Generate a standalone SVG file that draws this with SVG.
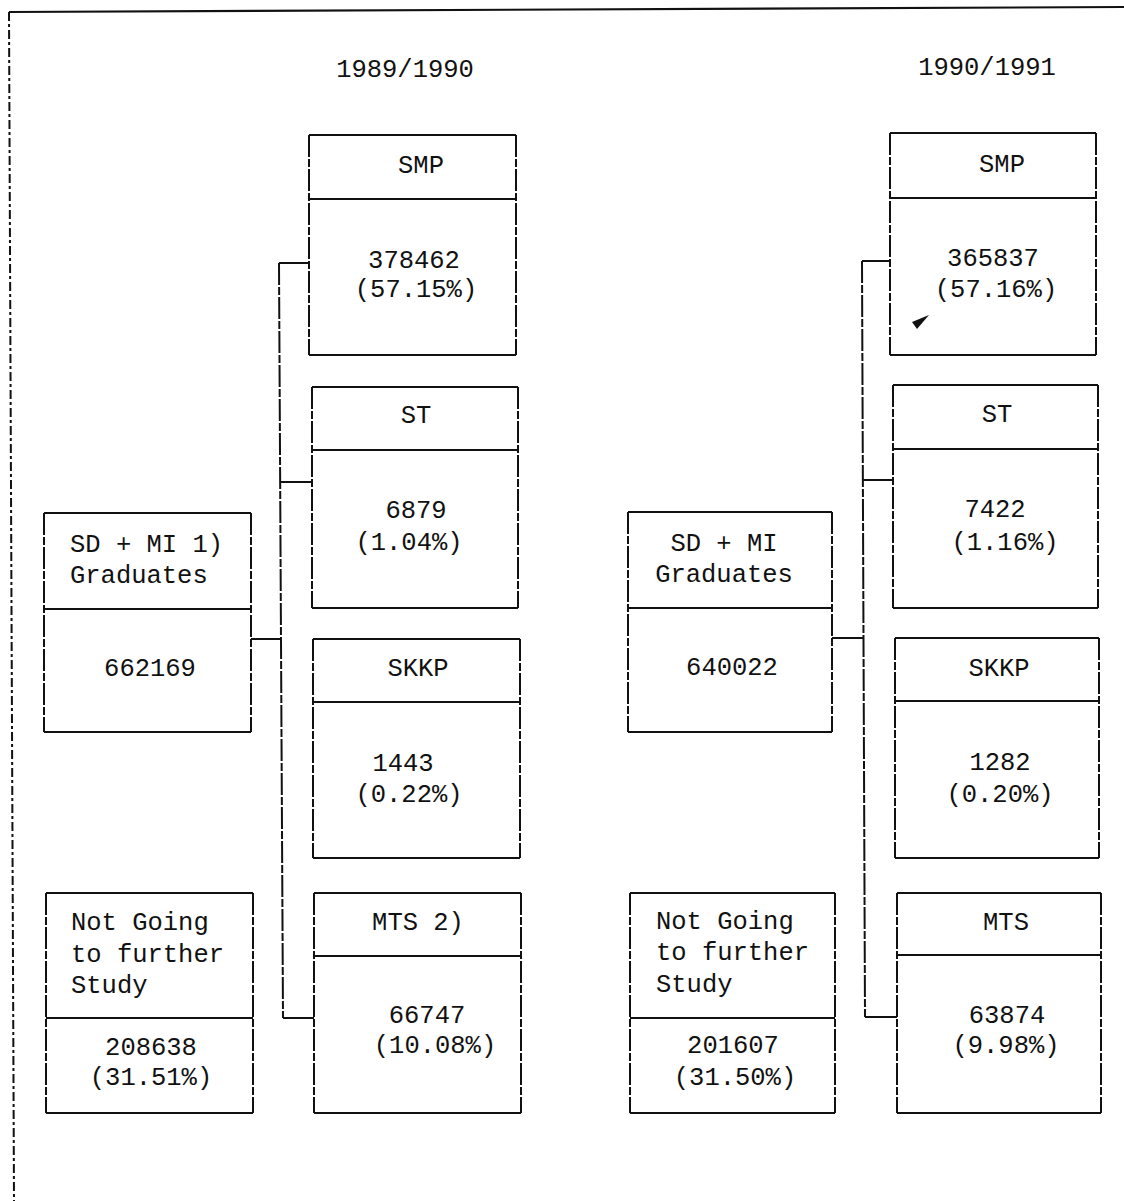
<svg xmlns="http://www.w3.org/2000/svg" width="1124" height="1201" viewBox="0 0 1124 1201">
<style>
text{font-family:"Liberation Mono","DejaVu Sans Mono",monospace;font-size:25.5px;fill:#111}
.c{text-anchor:middle}
.h{fill:none;stroke:#111;stroke-width:2.2}
.v{fill:none;stroke:#111;stroke-width:2;stroke-dasharray:22 2 8 2}
.ln{fill:none;stroke:#111;stroke-width:2}
</style>
<rect width="1124" height="1201" fill="#fff"/>
<g id="frame">
<path d="M9,12 L1124,7" class="h"/>
<path d="M9,12 L14,1201" fill="none" stroke="#111" stroke-width="2" stroke-dasharray="9 3 3 3"/>
</g>
<g id="titles">
<text x="405" y="77" class="c">1989/1990</text>
<text x="987" y="75" class="c">1990/1991</text>
</g>
<g id="connectors">
<path d="M279,263 L283,1018" class="v"/>
<path d="M279,263 H309 M281,482 H312 M283,1018 H314 M251,639 H281" class="ln"/>
<path d="M862,261 L865,1017" class="v"/>
<path d="M862,261 H890 M863,480 H893 M865,1017 H897 M832,638 H863" class="ln"/>
<polygon points="929,315 912,322 917,329" fill="#111"/>
</g>
<g id="l-smp">
<path d="M309,135 H516 M309,199 H516 M309,355 H516" class="h"/>
<path d="M309,135 V355 M516,135 V355" class="v"/>
<text x="421" y="173" class="c">SMP</text>
<text x="414" y="268" class="c">378462</text>
<text x="416" y="297" class="c">(57.15%)</text>
</g>
<g id="l-st">
<path d="M312,387 H518 M312,450 H518 M312,608 H518" class="h"/>
<path d="M312,387 V608 M518,387 V608" class="v"/>
<text x="416" y="423" class="c">ST</text>
<text x="416" y="518" class="c">6879</text>
<text x="409" y="550" class="c">(1.04%)</text>
</g>
<g id="l-skkp">
<path d="M313,639 H520 M313,702 H520 M313,858 H520" class="h"/>
<path d="M313,639 V858 M520,639 V858" class="v"/>
<text x="418" y="676" class="c">SKKP</text>
<text x="403" y="771" class="c">1443</text>
<text x="409" y="802" class="c">(0.22%)</text>
</g>
<g id="l-mts">
<path d="M314,893 H521 M314,956 H521 M314,1113 H521" class="h"/>
<path d="M314,893 V1113 M521,893 V1113" class="v"/>
<text x="418" y="930" class="c">MTS 2)</text>
<text x="427" y="1023" class="c">66747</text>
<text x="435" y="1053" class="c">(10.08%)</text>
</g>
<g id="l-sd">
<path d="M44,513 H251 M44,609 H251 M44,732 H251" class="h"/>
<path d="M44,513 V732 M251,513 V732" class="v"/>
<text x="70" y="552">SD + MI 1)</text>
<text x="70" y="583">Graduates</text>
<text x="150" y="676" class="c">662169</text>
</g>
<g id="l-not">
<path d="M46,893 H253 M46,1018 H253 M46,1113 H253" class="h"/>
<path d="M46,893 V1113 M253,893 V1113" class="v"/>
<text x="71" y="930">Not Going</text>
<text x="71" y="962">to further</text>
<text x="71" y="993">Study</text>
<text x="151" y="1055" class="c">208638</text>
<text x="151" y="1085" class="c">(31.51%)</text>
</g>
<g id="r-smp">
<path d="M890,133 H1096 M890,198 H1096 M890,355 H1096" class="h"/>
<path d="M890,133 V355 M1096,133 V355" class="v"/>
<text x="1002" y="172" class="c">SMP</text>
<text x="993" y="266" class="c">365837</text>
<text x="996" y="297" class="c">(57.16%)</text>
</g>
<g id="r-st">
<path d="M893,385 H1098 M893,449 H1098 M893,608 H1098" class="h"/>
<path d="M893,385 V608 M1098,385 V608" class="v"/>
<text x="997" y="422" class="c">ST</text>
<text x="995" y="517" class="c">7422</text>
<text x="1005" y="550" class="c">(1.16%)</text>
</g>
<g id="r-skkp">
<path d="M895,638 H1099 M895,701 H1099 M895,858 H1099" class="h"/>
<path d="M895,638 V858 M1099,638 V858" class="v"/>
<text x="999" y="676" class="c">SKKP</text>
<text x="1000" y="770" class="c">1282</text>
<text x="1000" y="802" class="c">(0.20%)</text>
</g>
<g id="r-mts">
<path d="M897,893 H1101 M897,955 H1101 M897,1113 H1101" class="h"/>
<path d="M897,893 V1113 M1101,893 V1113" class="v"/>
<text x="1006" y="930" class="c">MTS</text>
<text x="1007" y="1023" class="c">63874</text>
<text x="1006" y="1053" class="c">(9.98%)</text>
</g>
<g id="r-sd">
<path d="M628,512 H832 M628,608 H832 M628,732 H832" class="h"/>
<path d="M628,512 V732 M832,512 V732" class="v"/>
<text x="724" y="551" class="c">SD + MI</text>
<text x="724" y="582" class="c">Graduates</text>
<text x="732" y="675" class="c">640022</text>
</g>
<g id="r-not">
<path d="M630,893 H835 M630,1018 H835 M630,1113 H835" class="h"/>
<path d="M630,893 V1113 M835,893 V1113" class="v"/>
<text x="656" y="929">Not Going</text>
<text x="656" y="960">to further</text>
<text x="656" y="992">Study</text>
<text x="733" y="1053" class="c">201607</text>
<text x="735" y="1085" class="c">(31.50%)</text>
</g>
</svg>
